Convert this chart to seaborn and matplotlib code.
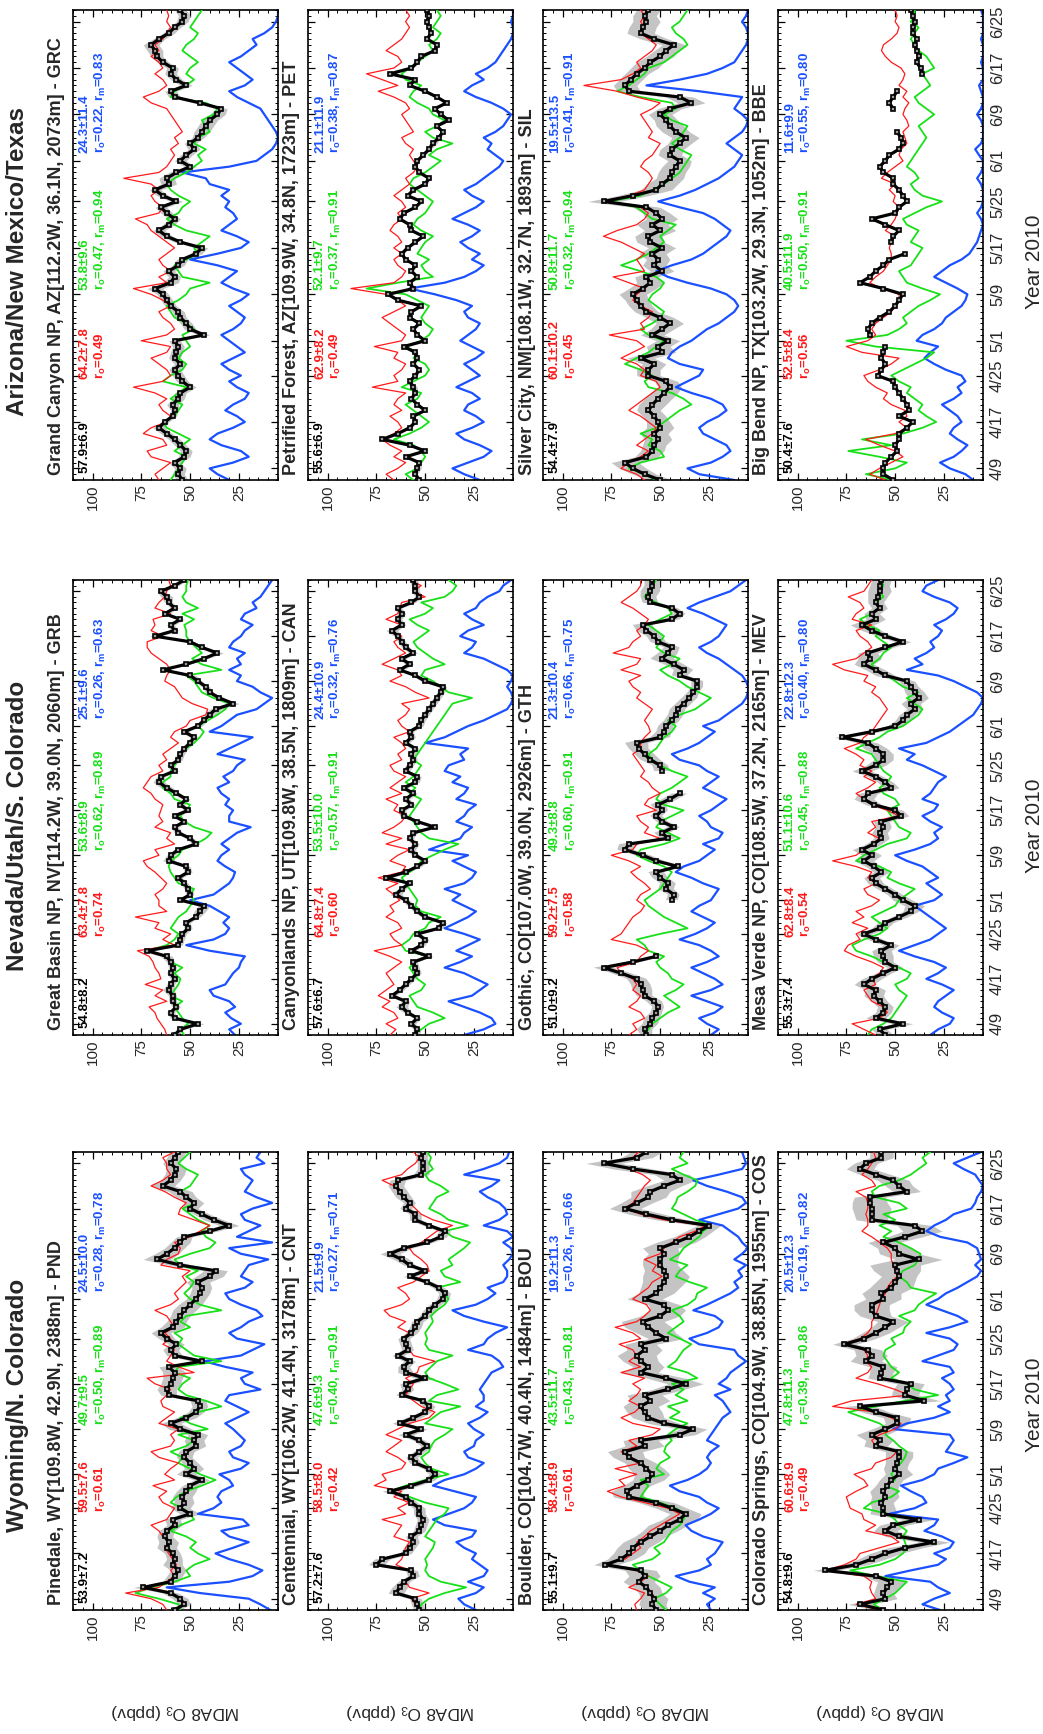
import numpy as np
import pandas as pd
import matplotlib
matplotlib.use("Agg")
import matplotlib.pyplot as plt
import seaborn as sns
from matplotlib.ticker import FixedLocator, MultipleLocator

nan = float("nan")

# ---------------- data ----------------
DATES = pd.date_range("2010-04-07", "2010-06-27", freq="D")
TICK_DATES = ["2010-04-09", "2010-04-17", "2010-04-25", "2010-05-01", "2010-05-09", "2010-05-17",
              "2010-05-25", "2010-06-01", "2010-06-09", "2010-06-17", "2010-06-25"]
O3_TICKS = [100, 75, 50, 25]
GROUP_TITLES = ["Arizona/New Mexico/Texas", "Nevada/Utah/S. Colorado", "Wyoming/N. Colorado"]
XLABEL = "Year 2010"
YLABEL = "MDA8 O$_3$ (ppbv)"

# Wyoming / N. Colorado
PND_TITLE = "Pinedale, WY[109.8W, 42.9N, 2388m] - PND"
PND_STATS = ["53.9±7.2", "59.5±7.6", "r$_o$=0.61", "49.7±9.5", "r$_o$=0.50, r$_m$=0.89", "24.5±10.0", "r$_o$=0.28, r$_m$=0.78"]
PND_OBS = [58,53,55,60,74,60,58,56,59,58, 59,62,61,63,62,58,59,50,55,53, 54,52,50,44,52,48,50,53,52,47, 48,46,55,60,52,47,45,46,61,62, 60,59,58,61,44,58,60,57,62,65, 59,57,55,53,50,47,45,44,46,40, 37,55,67,62,58,55,53,40,30,38, 44,50,48,52,55,64,60,58,57,60, 58,56]
PND_RED = [62,64,70,83,66,62,58,60,57,59, 61,63,60,64,66,70,62,60,58,64, 66,62,69,58,63,60,56,66,70,60, 58,60,56,66,62,58,64,65,62,60, 68,72,48,56,62,60,58,64,60,63, 58,60,62,68,60,56,58,55,52,54, 50,65,62,56,55,58,50,45,40,48, 56,55,52,58,63,70,64,60,62,62, 64,58]
PND_GREEN = [55,56,66,78,70,58,50,52,48,40, 46,50,47,52,60,55,48,50,54,60, 57,52,44,37,45,50,56,54,60,52, 48,56,41,50,55,46,34,42,52,56, 54,50,58,56,34,48,52,56,54,58, 50,55,52,34,45,50,53,50,48,52, 46,55,58,50,40,37,42,44,40,46, 50,54,47,52,55,50,48,46,52,56, 53,50]
PND_BLUE = [9,14,20,45,62,30,18,13,20,30, 37,28,20,30,34,20,23,46,38,34, 36,34,28,30,35,24,20,28,30,24, 22,25,28,32,26,20,26,32,30,14, 22,24,18,32,43,24,18,12,26,30, 24,20,13,16,24,30,32,22,18,24, 22,20,10,24,30,8,26,20,14,22, 24,18,8,16,22,20,18,22,24,12, 16,14]
PND_SPREAD = [3,3,4,4,5,4,4,4,5,4, 4,5,5,4,4,4,4,5,5,5, 5,5,4,4,5,5,4,4,4,5, 5,5,6,5,5,4,4,4,4,5, 5,5,6,5,5,4,4,4,4,5, 6,5,5,6,6,5,5,5,6,7, 6,6,7,6,5,5,4,4,5,5, 4,4,5,5,6,6,5,5,5,4, 4,4]

CNT_TITLE = "Centennial, WY[106.2W, 41.4N, 3178m] - CNT"
CNT_STATS = ["57.2±7.6", "58.5±8.0", "r$_o$=0.42", "47.6±9.3", "r$_o$=0.40, r$_m$=0.91", "21.5±9.9", "r$_o$=0.27, r$_m$=0.71"]
CNT_OBS = [53,54,55,65,63,61,56,57,75,72, 60,58,56,57,53,52,51,53,53,57, 60,68,57,48,45,48,55,57,53,49, 53,60,52,63,56,50,48,51,62,59, 60,50,60,61,58,64,59,60,61,57, 55,54,50,48,45,41,40,43,49,58, 50,58,62,68,61,49,42,40,48,55, 55,60,58,61,63,65,64,52,51,51, 52,51]
CNT_RED = [52,55,57,48,58,60,56,58,65,62, 61,60,58,66,64,62,72,60,64,58, 66,62,76,70,72,62,60,64,70,66, 62,70,64,58,48,45,52,56,60,58, 56,60,54,53,45,56,58,60,62,58, 64,60,68,71,62,58,60,64,56,52, 48,49,52,56,58,52,48,44,36,46, 52,55,58,60,63,66,72,62,59,55, 53,56]
CNT_GREEN = [53,52,48,40,29,42,48,50,49,50, 48,46,45,50,48,46,44,40,38,50, 58,68,60,50,38,47,50,52,48,47, 45,40,36,50,46,42,32,48,44,33, 40,48,50,47,44,36,48,50,49,50, 48,46,47,44,40,38,40,44,32,40, 42,36,38,34,30,27,36,40,28,38, 42,48,46,44,38,42,48,50,46,48, 47,49]
CNT_BLUE = [24,30,33,24,20,28,20,18,22,26, 24,30,34,26,24,40,46,38,30,26, 24,35,46,40,30,24,20,28,30,25, 24,20,25,28,22,18,24,20,20,22, 20,18,16,10,12,16,28,20,18,14, 8,20,30,36,24,18,14,18,10,8, 8,10,7,5,6,10,5,8,20,12, 8,9,12,18,22,16,12,30,20,12, 8,7]
CNT_SPREAD = [3,3,3,4,4,3,3,3,4,4, 3,3,3,3,3,3,3,3,3,3, 3,4,4,3,3,3,3,3,3,3, 3,4,3,4,4,3,3,3,3,3, 3,5,4,3,3,3,3,3,3,3, 3,3,3,3,3,3,3,3,3,3, 3,3,4,5,4,3,3,3,3,3, 3,3,3,4,4,4,4,4,3,3, 3,3]

BOU_TITLE = "Boulder, CO[104.7W, 40.4N, 1484m] - BOU"
BOU_STATS = ["55.1±9.7", "58.4±8.9", "r$_o$=0.61", "43.5±11.7", "r$_o$=0.43, r$_m$=0.81", "19.2±11.3", "r$_o$=0.26, r$_m$=0.66"]
BOU_OBS = [52,54,53,55,57,61,58,60,78,70, 66,64,60,55,50,46,40,37,44,52, 66,67,62,56,54,57,60,66,68,58, 60,40,33,48,56,58,60,55,58,46, 37,47,60,56,60,62,58,60,47,52, 56,59,50,46,48,58,52,50,48,47, 48,50,50,48,50,42,35,30,25,44, 57,68,62,56,55,48,40,44,64,79, 62,57]
BOU_RED = [62,63,60,58,66,60,56,62,79,68, 64,60,62,58,55,50,45,40,46,58, 70,77,68,71,62,73,60,65,70,62, 66,54,50,64,70,63,60,66,62,60, 64,58,70,60,66,62,64,71,60,64, 73,62,58,55,57,64,60,56,54,49, 54,52,58,50,48,44,40,32,27,48, 60,68,64,62,60,58,55,59,66,76, 64,61]
BOU_GREEN = [47,50,53,47,44,50,56,60,64,54, 50,53,48,46,44,40,38,37,42,50, 60,58,56,60,48,52,50,45,48,47, 44,46,42,36,45,40,46,36,42,38, 44,31,36,46,42,40,38,34,40,46, 42,38,40,44,36,32,31,26,35,42, 40,36,45,40,38,34,30,28,24,32, 38,44,42,41,36,32,31,38,44,36, 40,38]
BOU_BLUE = [24,26,22,28,22,35,42,30,24,26, 22,20,18,28,34,37,30,24,20,26, 30,40,45,36,30,26,24,26,24,20, 26,24,22,20,18,14,16,18,22,14, 20,16,14,10,6,10,12,30,35,26, 20,18,22,33,26,20,14,10,12,8, 10,6,12,8,5,8,10,14,18,30, 20,10,6,8,16,26,33,20,8,6, 7,8]
BOU_SPREAD = [6,7,7,6,7,8,8,8,6,7, 8,8,9,8,9,10,9,8,8,9, 8,8,7,8,9,9,8,8,9,10, 9,8,7,8,8,9,9,10,9,8, 9,10,9,8,9,10,9,8,9,10, 12,11,10,9,8,9,9,10,11,12, 10,9,9,8,9,10,8,7,6,8, 9,8,8,9,10,9,8,9,10,9, 8,8]

COS_TITLE = "Colorado Springs, CO[104.9W, 38.85N, 1955m] - COS"
COS_STATS = ["54.8±9.6", "60.6±8.9", "r$_o$=0.49", "47.8±11.3", "r$_o$=0.39, r$_m$=0.86", "20.5±12.3", "r$_o$=0.19, r$_m$=0.82"]
COS_OBS = [56,68,55,56,54,52,60,86,70,62, 55,45,30,48,55,51,38,56,56,57, 55,56,54,52,48,50,49,48,48,60, 58,62,55,49,49,60,68,35,45,44, 42,58,57,56,65,62,64,76,66,60, 55,51,60,62,62,56,57,52,50,48, 49,50,38,48,50,56,45,36,40,62, 62,62,63,63,44,48,51,60,68,65, 57,57]
COS_RED = [58,70,60,62,63,62,66,86,76,70, 68,58,48,52,65,60,66,67,73,74, 75,70,64,66,71,62,60,52,49,60, 62,58,50,47,52,60,82,72,43,50, 59,70,64,62,65,64,66,77,68,64, 62,62,60,59,58,57,55,54,52,49, 50,51,52,52,54,58,62,67,64,64, 65,64,64,65,70,60,62,67,64,62, 60,61]
COS_GREEN = [56,61,55,50,47,44,60,73,58,50, 46,44,45,46,44,48,50,54,66,62, 52,48,55,50,52,50,47,45,44,48, 51,55,54,58,66,74,60,45,28,40, 44,52,48,52,54,56,55,50,52,46, 45,42,48,40,38,34,29,42,44,48, 46,40,38,37,42,48,56,52,58,50, 56,44,48,60,62,58,48,42,38,34, 36,32]
COS_BLUE = [27,36,30,22,28,32,55,42,28,24, 30,22,20,26,35,30,28,53,40,34, 36,42,47,36,30,28,20,13,24,22, 20,22,51,44,30,22,28,22,24,20, 22,26,20,22,36,28,20,18,22,34, 22,13,18,26,34,28,24,18,13,8, 6,9,6,7,8,13,27,34,30,24, 20,11,9,8,6,5,7,9,15,20, 13,6]
COS_SPREAD = [5,6,6,5,6,7,7,6,6,7, 8,9,8,7,6,7,8,7,6,6, 7,7,6,6,7,6,6,7,7,6, 7,8,7,6,7,7,8,8,7,7, 7,6,6,7,8,8,7,6,6,7, 7,8,8,9,9,9,10,11,10,9, 12,13,12,10,9,8,9,10,9,8, 9,10,9,8,7,7,8,8,7,6, 6,6]

# Nevada / Utah / S. Colorado
GRB_TITLE = "Great Basin NP, NV[114.2W, 39.0N, 2060m] - GRB"
GRB_STATS = ["54.8±8.2", "63.4±7.8", "r$_o$=0.74", "53.6±8.9", "r$_o$=0.62, r$_m$=0.89", "25.1±9.6", "r$_o$=0.26, r$_m$=0.63"]
GRB_OBS = [58,55,46,58,60,57,59,59,61,60, 58,60,59,60,62,72,56,55,54,51, 52,47,45,43,55,50,51,53,56,51, 52,61,60,56,47,50,56,58,53,58, 51,55,52,57,62,66,65,58,60,56, 55,53,50,48,53,46,43,40,37,28, 35,40,42,46,50,64,52,43,36,44, 50,68,58,60,55,63,58,61,62,65, 58,53]
GRB_RED = [62,63,65,67,68,71,62,68,64,73, 65,66,68,69,71,77,58,64,60,68, 66,78,62,66,66,68,64,62,65,68, 72,74,66,68,58,62,60,68,64,66, 65,64,68,70,74,72,70,64,66,62, 64,60,56,60,58,52,50,42,41,49, 54,56,58,63,62,60,62,66,70,72, 72,64,70,68,69,60,68,66,63,62, 60,61]
GRB_GREEN = [53,55,51,54,56,58,54,60,58,56, 55,58,54,60,62,72,62,58,56,60, 58,56,52,50,48,50,48,56,58,60, 61,60,56,54,47,42,39,48,53,55, 52,50,58,60,64,64,60,60,58,56, 55,52,48,45,43,46,41,36,32,30, 38,44,46,48,52,34,44,49,44,47, 50,52,52,53,48,54,46,52,54,52, 52,51]
GRB_BLUE = [27,30,24,29,32,27,30,38,40,32, 30,28,25,24,22,40,52,38,32,30, 33,30,35,40,50,38,34,30,28,27, 32,36,34,30,34,30,26,19,30,30, 28,32,30,34,36,30,33,28,26,22, 36,30,24,18,40,34,30,26,16,12, 8,14,18,26,24,30,24,26,22,30, 28,24,22,18,24,22,16,18,14,12, 10,8]
GRB_SPREAD = [2,2,3,2,2,2,2,2,3,2, 2,2,2,2,3,3,2,2,2,2, 2,2,3,3,2,2,2,2,2,2, 2,3,2,2,2,2,2,2,2,2, 2,2,2,2,3,3,2,2,2,2, 2,2,2,2,2,2,2,3,3,3, 2,2,2,2,3,2,2,2,3,2, 2,3,2,2,2,2,2,2,3,2, 2,2]

CAN_TITLE = "Canyonlands NP, UT[109.8W, 38.5N, 1809m] - CAN"
CAN_STATS = ["57.6±6.7", "64.8±7.4", "r$_o$=0.60", "53.5±10.0", "r$_o$=0.57, r$_m$=0.91", "24.4±10.9", "r$_o$=0.32, r$_m$=0.76"]
CAN_OBS = [55,54,57,54,59,62,60,67,63,60, 57,54,55,56,48,57,52,50,54,43, 41,50,54,57,60,65,62,58,70,60, 54,50,55,57,55,58,56,45,54,61, 62,57,60,56,61,55,54,60,58,56, 57,55,60,57,58,53,52,50,48,46, 44,42,41,50,55,63,58,62,56,60, 62,64,67,62,64,62,64,57,53,55, 55,56]
CAN_RED = [68,65,70,64,66,72,68,74,70,66, 68,70,66,62,68,76,62,66,68,62, 64,70,66,68,63,66,70,64,74,62, 60,68,64,58,70,62,72,66,62,60, 66,64,70,62,68,64,60,66,68,62, 64,60,62,66,58,62,64,60,58,62, 48,55,60,68,62,64,72,66,60,64, 66,62,68,62,70,64,63,62,50,56, 52,58]
CAN_GREEN = [56,52,48,40,46,54,56,58,52,50, 54,56,58,55,48,60,62,58,56,50, 48,42,52,55,54,56,58,60,62,58, 54,52,46,40,33,48,52,54,56,58, 56,54,52,58,55,60,56,54,52,56, 54,52,50,48,46,44,42,40,38,36, 26,38,42,46,52,50,40,46,50,54, 56,52,48,54,58,50,46,52,40,36, 34,38]
CAN_BLUE = [30,20,14,16,22,30,38,26,22,18, 24,30,40,32,26,34,28,22,30,40, 34,28,24,30,36,32,40,30,26,24, 30,36,28,48,40,32,30,26,34,30, 28,24,34,30,28,36,32,40,38,30, 32,28,50,40,34,28,20,14,8,6, 5,6,8,6,5,8,14,20,30,26, 24,32,28,20,26,30,24,22,18,12, 10,6]
CAN_SPREAD = [2,2,2,2,2,3,2,2,2,2, 2,2,2,2,2,2,2,2,2,2, 2,2,2,2,2,3,2,2,3,2, 2,2,2,2,2,2,2,2,2,2, 2,2,2,2,2,2,2,2,2,2, 2,2,2,2,2,2,2,2,2,2, 2,2,2,2,2,2,2,2,2,2, 2,2,3,2,2,2,2,2,2,2, 2,2]

GTH_TITLE = "Gothic, CO[107.0W, 39.0N, 2926m] - GTH"
GTH_STATS = ["51.0±9.2", "59.2±7.5", "r$_o$=0.58", "49.3±8.8", "r$_o$=0.60, r$_m$=0.91", "21.3±10.4", "r$_o$=0.66, r$_m$=0.75"]
GTH_OBS = [57,58,55,54,52,51,53,58,59,60, 62,70,79,64,52,nan,nan,nan,nan,nan, nan,nan,nan,nan,44,43,47,46,50,52, 41,52,59,68,66,46,49,43,49,52, 49,51,45,40,nan,nan,nan,49,50,55, 58,61,62,50,48,47,44,42,41,38, 35,33,31,31,40,38,43,49,46,44, 51,53,57,59,44,40,44,55,56,55, 54,54]
GTH_RED = [66,62,64,58,60,66,62,60,64,62, 64,70,72,62,60,56,62,75,70,68, 66,64,60,58,62,60,55,58,62,65, 60,66,75,64,62,50,58,56,60,62, 52,58,56,50,54,56,60,58,60,62, 64,60,60,58,55,56,58,56,54,58, 62,60,64,66,60,70,62,60,74,66, 64,60,62,58,56,60,64,70,66,62, 60,60]
GTH_GREEN = [58,56,54,50,46,40,44,48,42,38, 44,46,50,52,48,56,58,62,50,36, 42,48,52,56,58,54,50,48,46,44, 48,56,62,60,48,40,46,52,50,44, 38,48,52,50,44,40,36,44,50,54, 56,52,50,48,44,42,46,40,32,28, 24,30,36,40,46,50,44,40,48,52, 50,48,52,56,50,44,46,52,58,56, 54,52]
GTH_BLUE = [24,20,26,30,22,18,26,34,24,18, 22,28,34,26,20,24,30,40,32,26, 22,28,34,30,24,22,20,28,34,42, 38,30,26,22,28,20,18,24,26,30, 24,20,16,22,28,24,20,26,30,40, 44,36,30,26,22,28,20,16,12,8, 6,5,5,6,8,12,16,20,26,30, 24,20,18,16,22,28,36,30,22,14, 10,6]
GTH_SPREAD = [3,4,4,4,3,3,4,4,5,5, 5,5,5,4,4,4,4,4,4,4, 4,4,4,4,3,3,4,4,4,4, 3,4,4,4,5,4,4,3,3,3, 3,4,4,4,4,4,4,4,4,5, 5,5,6,5,4,4,4,4,4,4, 4,3,3,3,4,5,5,6,5,4, 4,4,5,5,4,3,3,4,4,5, 4,4]

MEV_TITLE = "Mesa Verde NP, CO[108.5W, 37.2N, 2165m] - MEV"
MEV_STATS = ["55.3±7.4", "62.8±8.4", "r$_o$=0.54", "51.1±10.6", "r$_o$=0.45, r$_m$=0.88", "22.8±12.3", "r$_o$=0.40, r$_m$=0.80"]
MEV_OBS = [55,58,46,60,56,55,58,61,60,66, 62,56,50,55,56,57,52,60,66,58, 55,48,42,40,46,50,55,60,62,57, 61,66,62,67,61,57,58,56,57,47, 50,61,66,64,52,55,60,67,60,56, 56,60,64,77,62,50,46,44,40,42, 38,40,42,44,55,60,66,63,64,55, 46,55,62,67,60,62,58,60,59,58, 58,57]
MEV_RED = [60,66,72,58,54,56,62,64,66,60, 62,58,56,62,70,76,74,68,70,64, 72,66,70,62,58,64,66,60,64,62, 70,82,70,66,62,58,64,60,62,48, 54,62,66,70,64,60,66,62,68,66, 70,76,68,66,62,60,58,56,54,56, 58,62,60,66,64,76,82,70,66,62, 64,68,70,62,72,70,66,68,74,66, 64,62]
MEV_GREEN = [64,62,56,52,50,48,46,44,48,50, 44,42,48,56,62,70,72,66,58,54, 58,62,56,50,48,44,40,48,54,52, 58,70,66,60,54,44,42,48,50,52, 54,48,50,56,58,54,52,56,58,60, 62,70,64,58,54,46,42,38,36,40, 44,38,46,50,54,60,62,58,56,52, 56,60,58,64,68,62,58,60,56,58, 56,57]
MEV_BLUE = [32,28,22,20,26,30,28,24,20,26, 34,28,24,30,40,48,40,32,28,24, 28,32,36,40,30,26,30,34,28,32, 36,44,50,40,32,28,30,26,32,36, 30,28,36,32,30,28,24,30,36,44, 40,48,34,28,22,18,14,10,8,6, 5,8,14,20,28,44,36,40,34,30, 32,28,26,30,24,20,18,22,30,36, 34,28]
MEV_SPREAD = [4,4,5,5,4,4,4,5,5,5, 5,4,4,4,5,5,4,4,4,4, 4,4,4,5,5,4,4,4,4,4, 4,5,5,5,4,4,4,4,4,4, 4,4,5,5,4,4,4,5,5,5, 5,6,5,4,4,4,4,4,4,5, 5,5,4,4,5,5,5,6,5,4, 4,4,5,6,5,4,4,4,5,6, 5,5]

# Arizona / New Mexico / Texas
GRC_TITLE = "Grand Canyon NP, AZ[112.2W, 36.1N, 2073m] - GRC"
GRC_STATS = ["57.9±6.9", "64.2±7.8", "r$_o$=0.49", "53.8±9.6", "r$_o$=0.47, r$_m$=0.94", "24.3±11.4", "r$_o$=0.22, r$_m$=0.83"]
GRC_OBS = [54,56,55,58,53,52,55,58,62,66, 63,59,58,59,56,55,50,54,56,58, 55,58,57,56,58,43,50,52,55,56, 60,62,64,68,60,58,61,56,54,47, 44,55,62,66,61,58,62,65,57,64, 68,61,62,57,50,55,52,48,50,46, 44,42,40,36,34,45,58,60,52,57, 60,59,64,67,68,70,66,61,58,54, 53,55]
GRC_RED = [66,68,64,60,70,72,62,64,74,70, 62,60,64,66,62,68,79,64,60,62, 66,70,62,60,75,62,58,60,64,66, 60,64,70,79,62,66,60,64,66,62, 58,62,66,70,72,78,66,64,68,70, 66,70,84,66,62,60,58,60,56,58, 54,56,58,60,62,70,74,66,62,64, 68,64,66,70,66,68,64,62,60,62, 61,62]
GRC_GREEN = [60,58,56,54,52,58,54,50,56,62, 64,58,56,54,60,56,52,64,60,54, 52,56,54,50,52,54,48,52,58,60, 62,56,52,50,40,54,56,58,52,46, 48,44,40,52,58,62,56,54,50,56, 60,62,58,52,48,44,46,42,48,46, 40,42,44,38,36,42,60,58,52,48, 52,50,46,50,54,52,48,46,50,48, 46,44]
GRC_BLUE = [30,36,40,28,20,24,34,40,36,28, 22,26,32,28,22,20,26,30,24,30, 34,28,22,26,30,34,28,24,22,26, 30,24,20,28,34,30,26,36,50,36, 24,20,26,34,30,26,28,32,30,34, 30,40,42,54,30,16,12,8,6,5, 6,8,10,12,14,20,26,30,22,18, 22,26,30,24,20,16,18,12,8,6, 5,5]
GRC_SPREAD = [3,3,3,3,3,3,3,3,3,3, 2,2,2,3,3,3,3,3,3,3, 3,3,3,3,3,3,3,3,3,3, 3,3,3,4,4,3,3,3,3,3, 3,3,3,3,3,3,3,3,3,3, 3,4,4,4,3,3,3,3,3,3, 4,4,4,4,3,3,3,3,3,3, 3,3,3,3,4,4,3,3,3,3, 3,3]

PET_TITLE = "Petrified Forest, AZ[109.9W, 34.8N, 1723m] - PET"
PET_STATS = ["55.6±6.9", "62.9±8.2", "r$_o$=0.49", "52.1±9.7", "r$_o$=0.37, r$_m$=0.91", "21.1±11.9", "r$_o$=0.38, r$_m$=0.87"]
PET_OBS = [53,55,54,53,60,50,58,72,64,58, 55,56,50,54,57,55,56,58,55,53, 56,54,55,61,50,54,56,53,58,57, 52,64,69,56,58,54,57,55,60,62, 59,55,51,57,58,63,61,55,52,59, 56,50,48,53,55,54,51,48,46,43, 41,44,38,42,45,39,44,50,58,55, 68,57,54,52,45,44,49,47,48,49, 48,49]
PET_RED = [66,70,64,60,66,62,68,72,66,62, 64,68,62,66,64,60,77,64,66,62, 60,66,64,76,62,60,64,68,72,66, 60,64,70,88,66,62,60,64,66,62, 66,62,64,68,66,62,64,60,62,66, 62,58,60,56,54,56,58,56,60,62, 56,58,60,62,58,60,66,74,64,72, 80,66,62,64,70,66,62,60,58,60, 58,60]
PET_GREEN = [56,60,54,52,50,52,56,66,58,52, 48,52,56,60,54,52,62,56,50,48, 50,56,54,60,52,48,46,50,52,50, 48,54,60,80,64,46,50,52,48,54, 52,50,46,52,56,54,50,48,46,50, 54,58,56,50,46,42,48,44,36,46, 50,44,40,46,48,54,58,56,52,60, 62,58,54,50,46,48,44,42,46,44, 42,44]
PET_BLUE = [22,30,36,28,20,16,22,30,34,26, 20,24,30,28,22,26,34,28,22,26, 30,24,20,26,32,28,24,22,28,30, 26,34,45,58,40,30,24,20,26,22, 28,32,26,22,28,36,30,24,20,26, 30,24,20,16,12,10,14,18,16,20, 14,10,8,6,10,16,24,30,26,20, 24,18,14,12,10,8,6,5,5,6, 5,5]
PET_SPREAD = [1,1,2,1,1,1,2,2,1,1, 1,1,1,1,1,1,2,1,1,1, 1,1,1,2,1,1,1,1,1,1, 1,1,2,2,1,1,1,1,1,1, 1,1,1,1,1,1,1,1,1,1, 1,1,1,1,1,1,1,1,2,1, 1,1,1,1,1,1,1,1,1,1, 2,1,1,1,1,1,1,1,1,1, 1,1]

SIL_TITLE = "Silver City, NM[108.1W, 32.7N, 1893m] - SIL"
SIL_STATS = ["54.4±7.9", "60.1±10.2", "r$_o$=0.45", "50.8±11.7", "r$_o$=0.32, r$_m$=0.94", "19.5±13.5", "r$_o$=0.41, r$_m$=0.91"]
SIL_OBS = [50,58,64,68,57,54,53,51,53,50, 51,53,56,54,51,48,45,47,56,56, 53,60,49,51,46,54,49,45,50,57, 60,62,64,59,55,57,49,53,51,54, 49,55,56,50,54,49,52,57,79,64, 52,49,45,44,42,40,45,44,40,37, 42,45,47,50,45,34,40,66,68,65, 62,58,55,50,47,43,53,60,59,57, 58,56]
SIL_RED = [58,62,70,66,60,56,62,58,54,52, 56,60,66,62,58,54,50,52,60,58, 62,70,64,58,62,76,58,60,56,54, 60,64,62,58,66,74,58,60,62,58, 64,70,79,72,62,58,56,60,80,66, 58,56,54,56,60,58,54,52,50,56, 54,56,58,60,54,50,62,72,89,70, 64,60,62,58,54,52,56,60,58,60, 58,60]
SIL_GREEN = [52,58,66,60,48,50,56,54,60,52, 48,44,40,34,38,44,56,58,54,60, 68,62,56,52,48,56,60,54,50,48, 52,56,54,50,48,52,60,70,62,56, 52,48,50,46,42,54,58,62,76,60, 54,48,44,40,38,36,34,40,44,40, 38,36,44,48,42,44,60,72,66,62, 58,56,48,44,40,36,38,42,44,40, 38,36]
SIL_BLUE = [12,30,36,24,18,14,16,22,28,30, 26,20,16,18,24,34,42,36,30,28, 40,46,44,40,34,30,26,20,16,12, 10,12,16,24,36,46,52,44,34,28, 24,20,16,14,18,22,28,40,51,40, 32,26,20,16,12,10,8,12,16,12, 8,6,5,8,12,10,8,30,57,40, 26,18,12,10,8,6,5,5,6,8, 6,5]
SIL_SPREAD = [6,6,7,7,6,6,6,7,7,7, 6,6,6,7,7,7,6,6,6,6, 6,7,7,6,6,6,6,7,7,6, 6,6,7,7,7,6,6,6,6,7, 7,7,7,8,8,8,7,7,8,8, 8,8,7,7,7,6,6,6,6,7, 7,7,6,6,6,7,7,6,6,6, 6,7,7,7,6,6,7,7,7,7, 6,6]

BBE_TITLE = "Big Bend NP, TX[103.2W, 29.3N, 1052m] - BBE"
BBE_STATS = ["50.4±7.6", "52.5±8.4", "r$_o$=0.56", "40.5±11.9", "r$_o$=0.50, r$_m$=0.91", "11.6±9.9", "r$_o$=0.55, r$_m$=0.80"]
BBE_OBS = [51,56,56,55,52,49,50,48,48,44, 41,48,43,44,46,48,50,51,59,57, 55,57,56,55,nan,63,64,62,58,53, 50,48,46,56,68,63,60,56,53,45, nan,52,51,48,55,62,50,48,44,46, 48,51,51,56,58,55,53,48,46,47, 49,nan,nan,nan,51,53,51,49,nan,nan, 36,37,39,38,39,40,39,41,41,40, 41,42]
BBE_RED = [55,63,58,52,46,50,58,65,50,44, 48,44,45,52,56,54,60,64,66,58, 52,48,67,75,64,60,62,60,56,52, 50,48,48,57,63,60,56,54,52,52, 53,52,50,55,52,50,49,48,51,50, 53,50,57,54,50,46,48,47,44,45, 46,43,44,46,45,43,46,44,48,46, 45,47,52,55,57,56,52,49,48,50, 49,50]
BBE_GREEN = [51,65,50,44,58,74,52,67,46,36, 29,34,38,36,40,44,42,48,52,46, 40,34,30,60,75,54,48,44,46,42, 38,32,27,36,44,46,48,42,40,38, 36,42,40,38,44,46,40,34,26,36, 40,42,38,40,44,42,40,38,36,34, 36,38,34,30,34,38,40,36,32,34, 36,30,32,34,38,40,42,40,38,42, 40,40]
BBE_BLUE = [10,14,22,27,20,16,13,18,22,20, 16,18,22,26,20,16,18,14,16,24, 30,35,32,28,39,36,30,26,24,20, 16,14,13,18,24,30,26,22,16,12, 10,8,7,6,5,6,8,6,5,5, 5,6,8,6,5,5,7,9,6,5, 5,5,6,8,6,5,5,6,7,5, 5,5,6,5,5,5,6,5,5,5, 5,6]
BBE_SPREAD = None

GROUPS = [
    [(GRC_TITLE, GRC_STATS, GRC_OBS, GRC_RED, GRC_GREEN, GRC_BLUE, GRC_SPREAD),
     (PET_TITLE, PET_STATS, PET_OBS, PET_RED, PET_GREEN, PET_BLUE, PET_SPREAD),
     (SIL_TITLE, SIL_STATS, SIL_OBS, SIL_RED, SIL_GREEN, SIL_BLUE, SIL_SPREAD),
     (BBE_TITLE, BBE_STATS, BBE_OBS, BBE_RED, BBE_GREEN, BBE_BLUE, BBE_SPREAD)],
    [(GRB_TITLE, GRB_STATS, GRB_OBS, GRB_RED, GRB_GREEN, GRB_BLUE, GRB_SPREAD),
     (CAN_TITLE, CAN_STATS, CAN_OBS, CAN_RED, CAN_GREEN, CAN_BLUE, CAN_SPREAD),
     (GTH_TITLE, GTH_STATS, GTH_OBS, GTH_RED, GTH_GREEN, GTH_BLUE, GTH_SPREAD),
     (MEV_TITLE, MEV_STATS, MEV_OBS, MEV_RED, MEV_GREEN, MEV_BLUE, MEV_SPREAD)],
    [(PND_TITLE, PND_STATS, PND_OBS, PND_RED, PND_GREEN, PND_BLUE, PND_SPREAD),
     (CNT_TITLE, CNT_STATS, CNT_OBS, CNT_RED, CNT_GREEN, CNT_BLUE, CNT_SPREAD),
     (BOU_TITLE, BOU_STATS, BOU_OBS, BOU_RED, BOU_GREEN, BOU_BLUE, BOU_SPREAD),
     (COS_TITLE, COS_STATS, COS_OBS, COS_RED, COS_GREEN, COS_BLUE, COS_SPREAD)],
]

# ---------------- style ----------------
sns.set_style("ticks")
plt.rcParams["font.family"] = ["Liberation Sans", "DejaVu Sans"]
plt.rcParams["mathtext.default"] = "regular"

RED = "#ff1a1a"
GREEN = "#18e018"
BLUE = "#1a50ff"
GRAY = "#c4c4c4"

W, H = 1043, 1734
COL_LEFT = [73, 308, 543, 778]
COL_W = 205
ROWS = [(10, 480), (580, 1035), (1152, 1610)]
GROUP_CY = [262, 826, 1405]

N = len(DATES)
DAYS = np.asarray((DATES - DATES[0]).days, dtype=float)
TICK_POS = [(pd.Timestamp(d) - DATES[0]).days for d in TICK_DATES]
TICK_LAB = [f"{pd.Timestamp(d).month}/{pd.Timestamp(d).day}" for d in TICK_DATES]


def fix(a):
    a = np.asarray(a, dtype=float)
    if len(a) < N:
        a = np.concatenate([a, np.full(N - len(a), np.nan)])
    return a[:N]


fig = plt.figure(figsize=(W / 100, H / 100), dpi=100)

for g, group in enumerate(GROUPS):
    top, bot = ROWS[g]
    for c, (title, stats, obs, red, grn, blu, spread) in enumerate(group):
        ax = fig.add_axes([COL_LEFT[c] / W, 1 - bot / H, COL_W / W, (bot - top) / H])
        obs, red, grn, blu = fix(obs), fix(red), fix(grn), fix(blu)
        if spread is not None:
            sp = fix(spread)
            ax.fill_betweenx(DAYS, obs - sp, obs + sp, color=GRAY, lw=0, zorder=1)
        sns.lineplot(x=blu, y=DAYS, orient="y", sort=False, color=BLUE, lw=1.6, ax=ax, zorder=2)
        sns.lineplot(x=grn, y=DAYS, orient="y", sort=False, color=GREEN, lw=1.3, ax=ax, zorder=3)
        sns.lineplot(x=red, y=DAYS, orient="y", sort=False, color=RED, lw=0.9, ax=ax, zorder=4)
        ax.plot(obs, DAYS, color="black", lw=2.3, marker="s", ms=3.2, mfc="#9a9a9a",
                mec="black", mew=1.2, zorder=5)

        ax.set_xlim(110, 5)
        ax.set_ylim(0, N - 1)
        ax.set_xlabel("")
        ax.set_ylabel("")
        ax.xaxis.set_major_locator(FixedLocator(O3_TICKS))
        ax.xaxis.set_minor_locator(MultipleLocator(5))
        ax.yaxis.set_major_locator(FixedLocator(TICK_POS))
        ax.yaxis.set_minor_locator(MultipleLocator(1))
        ax.set_yticklabels(TICK_LAB)
        ax.tick_params(which="both", direction="in", top=True, bottom=True, left=True, right=True,
                       color="black")
        ax.tick_params(which="major", length=5, width=0.9)
        ax.tick_params(which="minor", length=2.5, width=0.7)
        ax.tick_params(axis="x", labelbottom=True, labeltop=False, labelrotation=90, labelsize=11, pad=3)
        ax.tick_params(axis="y", labelleft=False, labelright=(c == 3), labelrotation=90, labelsize=12, pad=5)
        for lab in ax.get_yticklabels():
            lab.set_verticalalignment("center")
        for s in ax.spines.values():
            s.set_linewidth(1.2)
            s.set_color("black")

        hpx = bot - top
        ax.text(-16 / COL_W, 5 / hpx, title, transform=ax.transAxes, rotation=90,
                ha="center", va="bottom", fontsize=13, fontweight="bold")
        x1, x2 = 12 / COL_W, 27 / COL_W
        kw = dict(transform=ax.transAxes, rotation=90, ha="center", va="bottom", fontsize=9.5,
                  fontweight="bold")
        ax.text(x1, 0.015, stats[0], color="black", **kw)
        ax.text(x1, 0.215, stats[1], color=RED, **kw)
        ax.text(x2, 0.215, stats[2], color=RED, **kw)
        ax.text(x1, 0.405, stats[3], color=GREEN, **kw)
        ax.text(x2, 0.405, stats[4], color=GREEN, **kw)
        ax.text(x1, 0.695, stats[5], color=BLUE, **kw)
        ax.text(x2, 0.695, stats[6], color=BLUE, **kw)

    fig.text(18 / W, 1 - GROUP_CY[g] / H, GROUP_TITLES[g], rotation=90, ha="center", va="center",
             fontsize=17.5, fontweight="bold")
    fig.text(1034 / W, 1 - GROUP_CY[g] / H, XLABEL, rotation=90, ha="center", va="center", fontsize=15)

for c in range(4):
    fig.text((COL_LEFT[c] + COL_W / 2) / W, 1 - 1712 / H, YLABEL, rotation=180,
             ha="center", va="center", fontsize=12.5)

fig.savefig("out.png", dpi=100)
